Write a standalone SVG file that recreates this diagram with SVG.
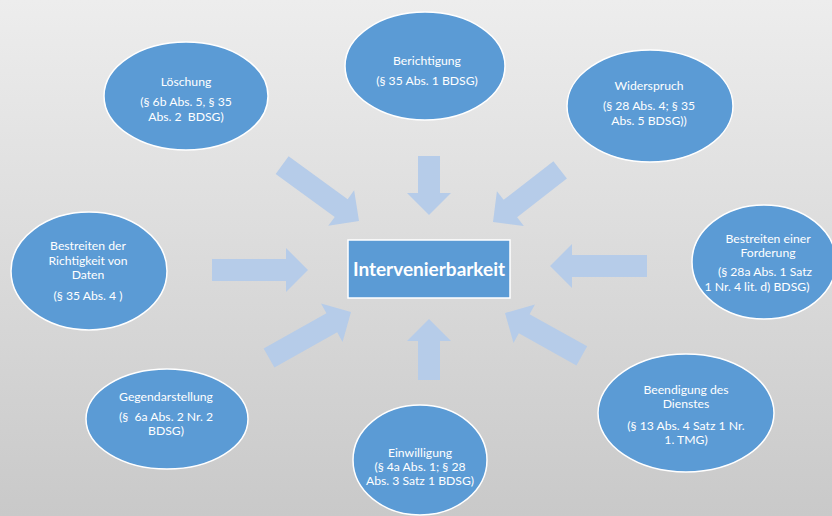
<svg xmlns="http://www.w3.org/2000/svg" width="832" height="516" viewBox="0 0 832 516">
<defs>
<linearGradient id="bg" x1="0" y1="0" x2="0" y2="1">
<stop offset="0" stop-color="#ededed"/>
<stop offset="1" stop-color="#c9c9c9"/>
</linearGradient>
</defs>
<style>
.node{fill:#5b9bd5;stroke:#ffffff;stroke-width:1.5}
.t{font-family:Lato,"Open Sans","Liberation Sans",sans-serif;font-size:12.2px;fill:#ffffff;text-anchor:middle;white-space:pre}
.big{font-family:Lato,"Open Sans","Liberation Sans",sans-serif;font-size:19px;font-weight:bold;fill:#ffffff;text-anchor:middle}
.arr{fill:#b6cce9}
</style>
<rect width="832" height="516" fill="url(#bg)"/>
<g id="connectors">
<polygon class="arr" transform="translate(429,215) rotate(90)" points="-59,-11 -22,-11 -22,-22 0,0 -22,22 -22,11 -59,11"/>
<polygon class="arr" transform="translate(308,270)" points="-96,-11 -22,-11 -22,-22 0,0 -22,22 -22,11 -96,11"/>
<polygon class="arr" transform="translate(550,266) rotate(180)" points="-97,-11 -22,-11 -22,-22 0,0 -22,22 -22,11 -97,11"/>
<polygon class="arr" transform="translate(429,319) rotate(-90)" points="-61,-11 -22,-11 -22,-22 0,0 -22,22 -22,11 -61,11"/>
<polygon class="arr" transform="translate(359,221) rotate(36)" points="-95,-11 -22,-11 -22,-22 0,0 -22,22 -22,11 -95,11"/>
<polygon class="arr" transform="translate(493,222) rotate(142.2)" points="-85,-11 -22,-11 -22,-22 0,0 -22,22 -22,11 -85,11"/>
<polygon class="arr" transform="translate(351,312) rotate(-29.3)" points="-94,-11 -22,-11 -22,-22 0,0 -22,22 -22,11 -94,11"/>
<polygon class="arr" transform="translate(505,313) rotate(209.2)" points="-88,-11 -22,-11 -22,-22 0,0 -22,22 -22,11 -88,11"/>
</g>
<g id="center">
<rect class="node" x="348" y="240" width="162" height="58"/>
<text class="big" x="429" y="276">Intervenierbarkeit</text>
</g>
<g id="loeschung">
<ellipse class="node" cx="186" cy="96" rx="82" ry="54"/>
<text class="t" x="186" y="86">Löschung</text>
<text class="t" x="186" y="106">(§ 6b Abs. 5, § 35</text>
<text class="t" x="186" y="121">Abs. 2  BDSG)</text>
</g>
<g id="berichtigung">
<ellipse class="node" cx="425" cy="66" rx="80" ry="54"/>
<text class="t" x="427" y="65">Berichtigung</text>
<text class="t" x="427" y="85">(§ 35 Abs. 1 BDSG)</text>
</g>
<g id="widerspruch">
<ellipse class="node" cx="650" cy="106" rx="83" ry="56"/>
<text class="t" x="649" y="90">Widerspruch</text>
<text class="t" x="649" y="110">(§ 28 Abs. 4; § 35</text>
<text class="t" x="649" y="125">Abs. 5 BDSG))</text>
</g>
<g id="bestreiten-richtigkeit">
<ellipse class="node" cx="89" cy="271" rx="78" ry="59"/>
<text class="t" x="88" y="250">Bestreiten der</text>
<text class="t" x="88" y="265">Richtigkeit von</text>
<text class="t" x="88" y="279">Daten</text>
<text class="t" x="88" y="300">(§ 35 Abs. 4 )</text>
</g>
<g id="bestreiten-forderung">
<ellipse class="node" cx="764" cy="262" rx="72" ry="57"/>
<text class="t" x="768" y="243">Bestreiten einer</text>
<text class="t" x="768" y="257">Forderung</text>
<text class="t" x="765" y="276">(§ 28a Abs. 1 Satz</text>
<text class="t" x="757" y="291">1 Nr. 4 lit. d) BDSG)</text>
</g>
<g id="gegendarstellung">
<ellipse class="node" cx="167" cy="419" rx="81" ry="50"/>
<text class="t" x="166" y="401">Gegendarstellung</text>
<text class="t" x="166" y="421">(§  6a Abs. 2 Nr. 2</text>
<text class="t" x="166" y="435">BDSG)</text>
</g>
<g id="einwilligung">
<ellipse class="node" cx="420" cy="460" rx="67" ry="55"/>
<text class="t" x="420" y="457">Einwilligung</text>
<text class="t" x="420" y="471">(§ 4a Abs. 1; § 28</text>
<text class="t" x="420" y="485">Abs. 3 Satz 1 BDSG)</text>
</g>
<g id="beendigung">
<ellipse class="node" cx="686" cy="413" rx="88" ry="59"/>
<text class="t" x="686" y="394">Beendigung des</text>
<text class="t" x="686" y="408">Dienstes</text>
<text class="t" x="686" y="430">(§ 13 Abs. 4 Satz 1 Nr.</text>
<text class="t" x="686" y="444">1. TMG)</text>
</g>
</svg>
